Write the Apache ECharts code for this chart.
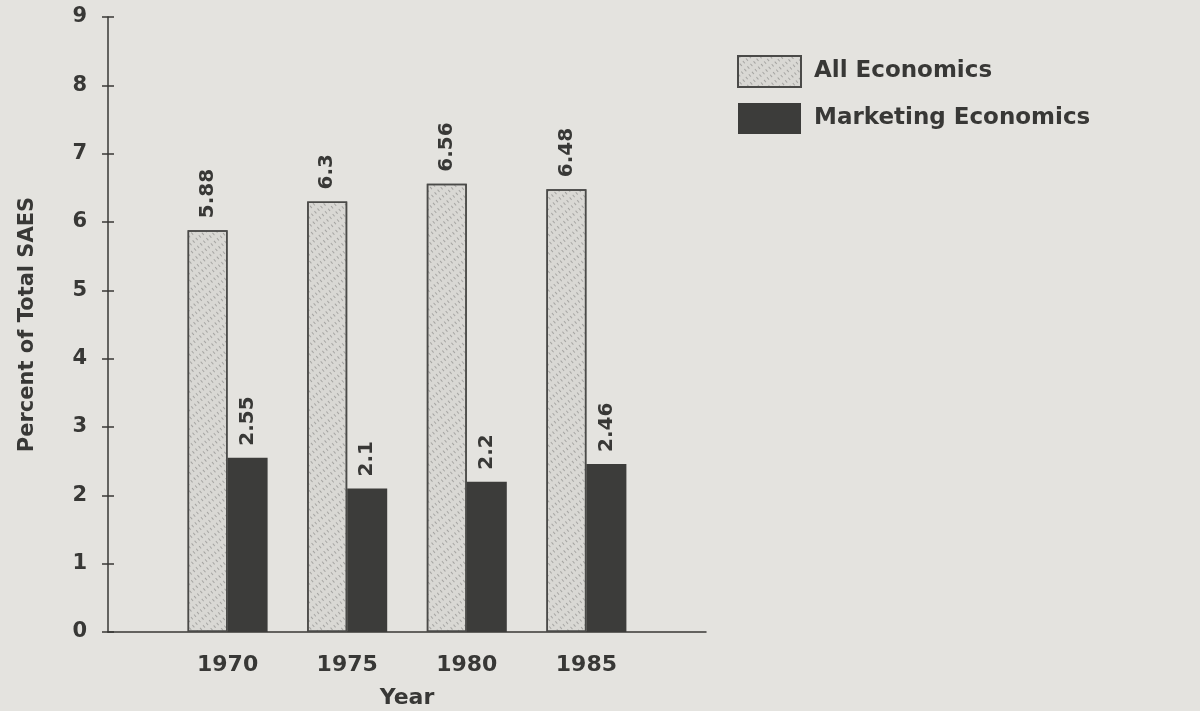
<!DOCTYPE html>
<html>
<head>
<meta charset="utf-8">
<script src="https://cdn.jsdelivr.net/npm/echarts@6/dist/echarts.min.js"></script>
<style>
html,body{margin:0;padding:0;background:#e4e3df;}
#c{width:1200px;height:711px;}
</style>
</head>
<body>
<div id="c"></div>
<script>
var categories = ['1970', '1975', '1980', '1985'];
var allEconomics = [5.88, 6.3, 6.56, 6.48];
var marketingEconomics = [2.55, 2.1, 2.2, 2.46];
var yTicks = [0, 1, 2, 3, 4, 5, 6, 7, 8, 9];

var FONT = 'DejaVu Sans';
var INK = '#383836';

// pad with an empty slot on each side so the four years sit at 1/5 steps
var xCats = [''].concat(categories).concat(['']);
var allData = [null].concat(allEconomics).concat([null]);
var mktData = [null].concat(marketingEconomics).concat([null]);

var chart = echarts.init(document.getElementById('c'));
var labelCommon = {
  show: true,
  position: 'top',
  rotate: 90,
  align: 'left',
  verticalAlign: 'middle',
  distance: 12,
  fontFamily: FONT,
  fontWeight: 'bold',
  fontSize: 20,
  color: INK
};
chart.setOption({
  backgroundColor: '#e4e3df',
  animation: false,
  textStyle: { fontFamily: FONT },
  grid: { left: 108, right: 494, top: 17, bottom: 79, containLabel: false, outerBoundsMode: 'none' },
  legend: {
    orient: 'vertical',
    left: 732,
    top: 50,
    itemWidth: 63,
    itemHeight: 31,
    itemGap: 15,
    icon: 'rect',
    textStyle: { fontFamily: FONT, fontWeight: 'bold', fontSize: 23, color: INK, padding: [0, 0, 0, 8] },
    data: ['All Economics', 'Marketing Economics']
  },
  xAxis: {
    type: 'category',
    data: xCats,
    boundaryGap: false,
    name: 'Year',
    nameLocation: 'middle',
    nameGap: 55,
    nameTextStyle: { fontFamily: FONT, fontWeight: 'bold', fontSize: 22, color: INK },
    axisLine: { lineStyle: { color: INK, width: 1.5 } },
    axisTick: { show: false },
    axisLabel: { margin: 22, fontFamily: FONT, fontWeight: 'bold', fontSize: 22, color: INK, interval: 0 },
    splitLine: { show: false }
  },
  yAxis: [{
    type: 'value',
    min: 0, max: 9, interval: 1,
    position: 'left',
    name: 'Percent of Total SAES',
    nameLocation: 'middle',
    nameGap: 70,
    nameTextStyle: { fontFamily: FONT, fontWeight: 'bold', fontSize: 21, color: INK },
    axisLine: { show: true, lineStyle: { color: INK, width: 1.5 } },
    axisTick: { show: false },
    axisLabel: { margin: 21, fontFamily: FONT, fontWeight: 'bold', fontSize: 21, color: INK,
      formatter: function (v) { return yTicks.indexOf(v) >= 0 ? String(v) : ''; } },
    splitLine: { show: false }
  }, {
    type: 'value',
    min: 0, max: 9, interval: 1,
    position: 'left',
    offset: -6,
    axisLine: { show: true, lineStyle: { color: 'rgba(0,0,0,0)', width: 1 } },
    axisTick: { show: true, length: 12, lineStyle: { color: INK, width: 1.5 } },
    axisLabel: { show: false },
    splitLine: { show: false }
  }],
  series: [{
    name: 'All Economics',
    type: 'bar',
    data: allData,
    barWidth: 40,
    barGap: '0%',
    itemStyle: {
      color: '#d9d8d4',
      borderColor: '#4a4a48',
      borderWidth: 1.5,
      decal: {
        symbol: 'rect',
        symbolSize: 1,
        color: 'rgba(70,70,68,0.35)',
        dashArrayX: [1, 3],
        dashArrayY: [3, 4],
        rotation: -0.7
      }
    },
    label: Object.assign({}, labelCommon)
  }, {
    name: 'Marketing Economics',
    type: 'bar',
    data: mktData,
    barWidth: 40,
    barGap: '0%',
    itemStyle: { color: '#3c3c3a', borderColor: '#3c3c3a', borderWidth: 0 },
    label: Object.assign({}, labelCommon)
  }]
});
</script>
</body>
</html>
